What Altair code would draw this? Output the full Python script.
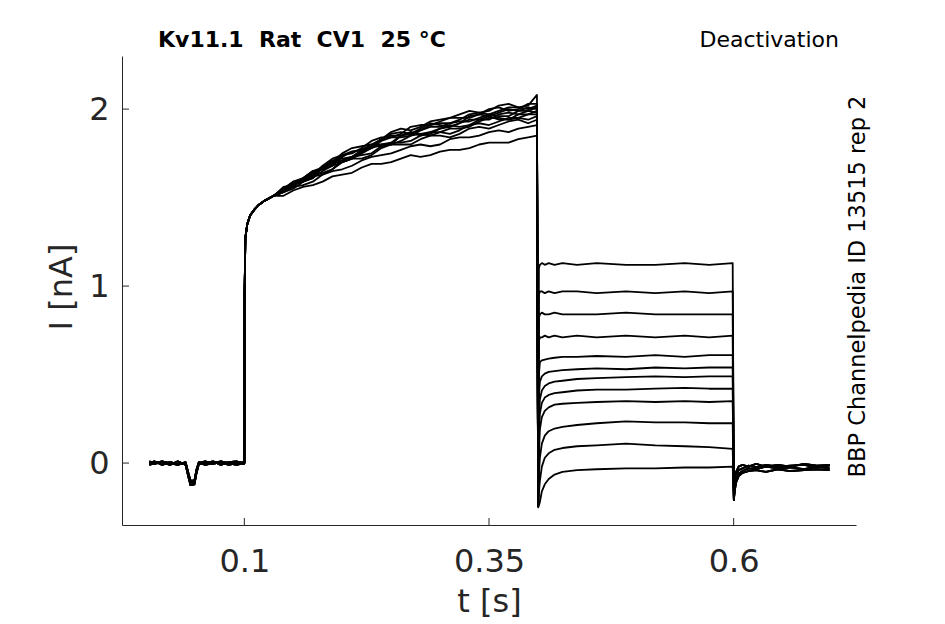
import altair as alt
import pandas as pd

# ---------------- data ----------------
X_TICKS = [0.1, 0.35, 0.6]
Y_TICKS = [0, 1, 2]

TITLE_LEFT = "Kv11.1\u00a0 Rat\u00a0 CV1\u00a0 25 °C"
TITLE_RIGHT = "Deactivation"
SIDE_NOTE = "BBP Channelpedia ID 13515 rep 2"

# holding period (with the small dip near 45 ms)
PRE_T = [0.0030, 0.0080, 0.0160, 0.0240, 0.0320, 0.0400, 0.0425, 0.0450, 0.0490,
         0.0510, 0.0535, 0.0600, 0.0680, 0.0760, 0.0840, 0.0920, 0.0995]
PRE_A = [0.00, 0.01, -0.01, 0.005, -0.005, 0.0, -0.06, -0.11, -0.11,
         -0.05, 0.0, 0.01, -0.005, 0.005, -0.01, 0.0, 0.005]
PRE_B = [0.01, -0.005, 0.005, -0.01, 0.01, -0.01, -0.07, -0.125, -0.12,
         -0.06, -0.005, 0.0, 0.01, -0.01, 0.005, 0.01, -0.005]
PRE_C = [-0.01, 0.0, 0.01, 0.0, -0.01, 0.005, -0.05, -0.10, -0.10,
         -0.04, 0.005, -0.01, 0.0, 0.01, 0.0, -0.01, 0.0]

# activation onset (common to all sweeps)
ONSET_T = [0.1000, 0.1003, 0.1010, 0.1030, 0.1060, 0.1100, 0.1150, 0.1200, 0.1300]
ONSET_I = [0.00, 0.95, 1.27, 1.35, 1.40, 1.43, 1.46, 1.48, 1.51]

# activation, per sweep
ACT_T = [0.14, 0.15, 0.16, 0.17, 0.18, 0.19, 0.20, 0.21, 0.22, 0.23, 0.24, 0.25, 0.26,
         0.27, 0.28, 0.29, 0.30, 0.31, 0.32, 0.33, 0.34, 0.35, 0.36, 0.37, 0.38, 0.39, 0.399]
ACT_1 = [1.55, 1.58, 1.59, 1.61, 1.67, 1.70, 1.70, 1.72, 1.76, 1.79, 1.79, 1.80, 1.85, 1.87,
         1.85, 1.86, 1.89, 1.91, 1.90, 1.91, 1.94, 1.96, 1.94, 1.94, 1.97, 1.99, 1.98]
ACT_2 = [1.54, 1.56, 1.61, 1.65, 1.66, 1.68, 1.73, 1.76, 1.77, 1.79, 1.83, 1.85, 1.85, 1.86,
         1.89, 1.92, 1.91, 1.90, 1.92, 1.96, 1.97, 1.96, 1.98, 2.00, 1.99, 1.99, 2.01]
ACT_3 = [1.53, 1.57, 1.60, 1.63, 1.64, 1.66, 1.71, 1.73, 1.74, 1.75, 1.79, 1.81, 1.81, 1.82,
         1.85, 1.87, 1.87, 1.86, 1.88, 1.91, 1.92, 1.91, 1.93, 1.95, 1.95, 1.94, 1.96]
ACT_4 = [1.55, 1.59, 1.60, 1.63, 1.68, 1.72, 1.74, 1.75, 1.78, 1.82, 1.84, 1.84, 1.86, 1.90,
         1.91, 1.91, 1.93, 1.95, 1.95, 1.95, 1.97, 2.00, 2.01, 1.99, 2.00, 2.03, 2.03]
ACT_5 = [1.56, 1.57, 1.61, 1.65, 1.67, 1.70, 1.75, 1.78, 1.79, 1.80, 1.83, 1.87, 1.89, 1.88,
         1.90, 1.93, 1.94, 1.95, 1.97, 1.99, 1.98, 1.99, 2.02, 2.03, 2.01, 2.02, 2.08]
ACT_6 = [1.54, 1.58, 1.60, 1.62, 1.67, 1.70, 1.71, 1.73, 1.77, 1.80, 1.80, 1.81, 1.85, 1.87,
         1.86, 1.87, 1.89, 1.90, 1.92, 1.94, 1.94, 1.94, 1.97, 1.98, 1.97, 1.97, 1.99]
ACT_7 = [1.53, 1.55, 1.59, 1.62, 1.63, 1.66, 1.70, 1.72, 1.72, 1.74, 1.78, 1.80, 1.80, 1.80,
         1.83, 1.85, 1.85, 1.84, 1.86, 1.89, 1.90, 1.89, 1.91, 1.93, 1.94, 1.92, 1.94]
ACT_8 = [1.55, 1.58, 1.59, 1.62, 1.67, 1.71, 1.72, 1.73, 1.76, 1.78, 1.82, 1.84, 1.84, 1.85,
         1.88, 1.90, 1.90, 1.92, 1.93, 1.93, 1.95, 1.97, 1.96, 1.96, 1.99, 2.01, 2.00]
ACT_9 = [1.51, 1.54, 1.56, 1.57, 1.59, 1.62, 1.63, 1.64, 1.67, 1.69, 1.69, 1.70, 1.72, 1.74,
         1.73, 1.74, 1.76, 1.77, 1.77, 1.78, 1.80, 1.81, 1.81, 1.81, 1.83, 1.84, 1.85]
ACT_10 = [1.55, 1.59, 1.61, 1.64, 1.66, 1.69, 1.74, 1.76, 1.77, 1.79, 1.83, 1.86, 1.87, 1.86,
          1.88, 1.91, 1.92, 1.92, 1.94, 1.97, 1.98, 1.97, 1.99, 2.01, 2.01, 2.00, 2.02]
ACT_11 = [1.53, 1.56, 1.57, 1.59, 1.63, 1.65, 1.66, 1.68, 1.71, 1.73, 1.74, 1.75, 1.77, 1.79,
          1.80, 1.79, 1.80, 1.83, 1.84, 1.84, 1.85, 1.87, 1.88, 1.87, 1.89, 1.90, 1.91]
ACT_12 = [1.54, 1.57, 1.59, 1.61, 1.65, 1.68, 1.70, 1.72, 1.75, 1.78, 1.80, 1.80, 1.82, 1.85,
          1.86, 1.85, 1.87, 1.89, 1.89, 1.90, 1.93, 1.95, 1.95, 1.94, 1.95, 1.97, 1.97]

# deactivation steps, per sweep
DEACT_T = [0.4002, 0.4010, 0.4020, 0.4040, 0.4070, 0.4110, 0.4170, 0.4250,
           0.4400, 0.4600, 0.4900, 0.5200, 0.5500, 0.5750, 0.5990]
DEACT_1 = [-0.24, 1.10, 1.12, 1.13, 1.12, 1.13, 1.12, 1.13, 1.12, 1.13, 1.12, 1.12, 1.13, 1.12, 1.13]
DEACT_2 = [-0.24, 0.95, 0.97, 0.97, 0.96, 0.97, 0.96, 0.97, 0.97, 0.96, 0.97, 0.96, 0.97, 0.96, 0.97]
DEACT_3 = [-0.24, 0.82, 0.84, 0.85, 0.84, 0.84, 0.85, 0.84, 0.84, 0.84, 0.85, 0.84, 0.84, 0.84, 0.84]
DEACT_4 = [-0.24, 0.69, 0.71, 0.71, 0.72, 0.71, 0.72, 0.71, 0.72, 0.71, 0.72, 0.71, 0.72, 0.71, 0.72]
DEACT_5 = [-0.24, 0.50, 0.57, 0.58, 0.585, 0.59, 0.595, 0.60, 0.60, 0.605, 0.60, 0.61, 0.60, 0.61, 0.61]
DEACT_6 = [-0.24, 0.38, 0.46, 0.49, 0.505, 0.515, 0.52, 0.525, 0.53, 0.535, 0.53, 0.54, 0.535, 0.54, 0.54]
DEACT_7 = [-0.24, 0.26, 0.36, 0.41, 0.435, 0.45, 0.46, 0.465, 0.475, 0.48, 0.485, 0.49, 0.485, 0.49, 0.49]
DEACT_8 = [-0.24, 0.15, 0.28, 0.34, 0.37, 0.385, 0.395, 0.40, 0.41, 0.415, 0.415, 0.42, 0.425, 0.42, 0.42]
DEACT_9 = [-0.24, 0.05, 0.19, 0.26, 0.295, 0.315, 0.33, 0.335, 0.34, 0.345, 0.35, 0.345, 0.35, 0.345, 0.35]
DEACT_10 = [-0.24, -0.06, 0.03, 0.11, 0.155, 0.18, 0.195, 0.205, 0.215, 0.225, 0.235, 0.23, 0.23, 0.225, 0.225]
DEACT_11 = [-0.24, -0.17, -0.10, -0.02, 0.03, 0.055, 0.075, 0.085, 0.095, 0.10, 0.11, 0.10, 0.095, 0.09, 0.08]
DEACT_12 = [-0.25, -0.24, -0.22, -0.16, -0.12, -0.09, -0.065, -0.05, -0.04, -0.035, -0.03, -0.03, -0.025, -0.025, -0.02]

# return to holding potential
TAIL_T = [0.6002, 0.6010, 0.6025, 0.6050, 0.6090, 0.6150, 0.6230, 0.6330,
          0.6450, 0.6580, 0.6720, 0.6850, 0.6980]
TAIL_A = [-0.21, -0.14, -0.09, -0.06, -0.045, -0.03, -0.035, -0.02, -0.03, -0.025, -0.035, -0.02, -0.03]
TAIL_B = [-0.20, -0.12, -0.07, -0.04, -0.03, -0.015, -0.025, -0.01, -0.02, -0.015, -0.01, -0.025, -0.015]
TAIL_C = [-0.21, -0.16, -0.11, -0.075, -0.055, -0.045, -0.04, -0.05, -0.035, -0.045, -0.04, -0.035, -0.04]
TAIL_D = [-0.19, -0.10, -0.05, -0.02, -0.01, -0.02, -0.005, -0.02, -0.01, -0.02, -0.005, -0.015, -0.01]

ACT = [ACT_1, ACT_2, ACT_3, ACT_4, ACT_5, ACT_6, ACT_7, ACT_8, ACT_9, ACT_10, ACT_11, ACT_12]
DEACT = [DEACT_1, DEACT_2, DEACT_3, DEACT_4, DEACT_5, DEACT_6, DEACT_7, DEACT_8,
         DEACT_9, DEACT_10, DEACT_11, DEACT_12]
PRE = [PRE_A, PRE_B, PRE_C]
TAIL = [TAIL_A, TAIL_B, TAIL_C, TAIL_D]

# ---------------- build table ----------------
rows = []
for k in range(len(ACT)):
    ts = PRE_T + ONSET_T + ACT_T + DEACT_T + TAIL_T
    vs = PRE[k % 3] + ONSET_I + ACT[k] + DEACT[k] + TAIL[k % 4]
    for j, (t, v) in enumerate(zip(ts, vs)):
        rows.append({"sweep": k + 1, "seq": j, "t": t, "I": v})
df = pd.DataFrame(rows)

W, H = 734, 469
INK = "#262626"
FONT = "DejaVu Sans"
LAB = 32

xs = alt.Scale(domain=[-0.025, 0.725], nice=False, zero=False)
ys = alt.Scale(domain=[-0.35, 2.3], nice=False, zero=False)

traces = alt.Chart(df).mark_line(color="black", strokeWidth=1.8, strokeJoin="round").encode(
    x=alt.X("t:Q", scale=xs, axis=alt.Axis(
        values=X_TICKS, format="~g", ticks=False, grid=False,
        domainColor=INK, domainWidth=1,
        labelFontSize=LAB, labelColor=INK, labelFont=FONT,
        labelBaseline="alphabetic", labelPadding=46,
        title="t [s]", titleFontSize=LAB, titleFontWeight="normal", titleColor=INK,
        titleFont=FONT, titleBaseline="alphabetic", titleY=86)),
    y=alt.Y("I:Q", scale=ys, axis=alt.Axis(
        values=Y_TICKS, format="d", ticks=False, grid=False,
        domainColor=INK, domainWidth=1,
        labelFontSize=LAB, labelColor=INK, labelFont=FONT, labelPadding=13,
        title="I [nA]", titleFontSize=LAB, titleFontWeight="normal", titleColor=INK,
        titleFont=FONT, titleBaseline="alphabetic", titleX=-51, titleY=230.5)),
    detail="sweep:N",
    order="seq:Q",
)

# inward tick marks at the axis tick values
xt = alt.Chart(pd.DataFrame({"t": X_TICKS})).mark_rule(color=INK, strokeWidth=1).encode(
    x=alt.X("t:Q", scale=xs), y=alt.value(H), y2=alt.value(H - 7))
yt = alt.Chart(pd.DataFrame({"I": Y_TICKS})).mark_rule(color=INK, strokeWidth=1).encode(
    y=alt.Y("I:Q", scale=ys), x=alt.value(0), x2=alt.value(7))

t_left = alt.Chart(pd.DataFrame({"s": [TITLE_LEFT]})).mark_text(
    font=FONT, fontSize=22, fontWeight="bold", color="black", align="left", baseline="alphabetic"
).encode(text="s:N", x=alt.value(36), y=alt.value(-9.5))
t_right = alt.Chart(pd.DataFrame({"s": [TITLE_RIGHT]})).mark_text(
    font=FONT, fontSize=22, color="black", align="right", baseline="alphabetic"
).encode(text="s:N", x=alt.value(717), y=alt.value(-9.5))
t_side = alt.Chart(pd.DataFrame({"s": [SIDE_NOTE]})).mark_text(
    font=FONT, fontSize=22.5, color="black", align="center", baseline="alphabetic", angle=270
).encode(text="s:N", x=alt.value(743), y=alt.value(230.5))

chart = alt.layer(traces, xt, yt, t_left, t_right, t_side).properties(
    width=W, height=H,
    autosize=alt.AutoSizeParams(type="none"),
    padding={"left": 114, "top": 48, "right": 60, "bottom": 96},
    background="white",
).configure(font=FONT).configure_view(stroke=None)

chart.save("out.html", embed_options={"renderer": "svg", "actions": False})
